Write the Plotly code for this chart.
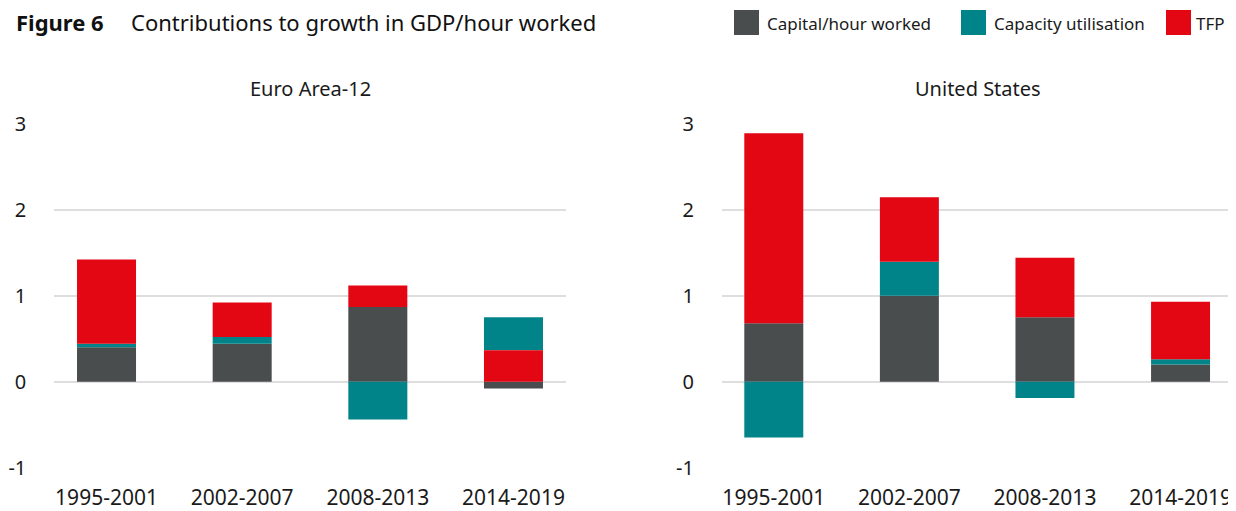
import plotly.graph_objects as go

periods = ["1995-2001", "2002-2007", "2008-2013", "2014-2019"]
series_names = ["Capital/hour worked", "Capacity utilisation", "TFP"]
colors = {"Capital/hour worked": "#4A4D4E", "Capacity utilisation": "#00848A", "TFP": "#E30613"}
y_tick_vals = [-1, 0, 1, 2, 3]
y_tick_text = ["-1", "0", "1", "2", "3"]

# Euro Area-12
ea_capital = [0.40, 0.44, 0.87, -0.08]
ea_capacity = [0.04, 0.08, -0.44, 0.385]
ea_tfp = [0.98, 0.40, 0.25, 0.365]

# United States
us_capital = [0.68, 1.00, 0.75, 0.20]
us_capacity = [-0.65, 0.395, -0.19, 0.06]
us_tfp = [2.21, 0.75, 0.69, 0.67]

# stacking order of positive segments per period (bottom to top)
ea_order = [["Capital/hour worked", "Capacity utilisation", "TFP"]] * 3 + [["Capital/hour worked", "TFP", "Capacity utilisation"]]
us_order = [["Capital/hour worked", "Capacity utilisation", "TFP"]] * 4

FONT = "Noto Sans"


def stacked_bases(values, orders):
    bases = {k: [0.0] * len(periods) for k in values}
    for i in range(len(periods)):
        pos, neg = 0.0, 0.0
        for name in orders[i]:
            v = values[name][i]
            if v >= 0:
                bases[name][i] = pos
                pos += v
            else:
                bases[name][i] = neg
                neg += v
    return bases


fig = go.Figure()
panels = [
    ({"Capital/hour worked": ea_capital, "Capacity utilisation": ea_capacity, "TFP": ea_tfp}, ea_order, "x", "y"),
    ({"Capital/hour worked": us_capital, "Capacity utilisation": us_capacity, "TFP": us_tfp}, us_order, "x2", "y2"),
]
for values, orders, xa, ya in panels:
    bases = stacked_bases(values, orders)
    for name in series_names:
        fig.add_trace(go.Bar(
            x=periods, y=values[name], base=bases[name], name=name,
            marker=dict(color=colors[name], line=dict(width=0)),
            width=0.435, xaxis=xa, yaxis=ya, showlegend=False,
        ))

# page body has an 8px margin; the visible area ends about 8px before the window edge
OFF = 8
W, H = 1236 - OFF, 511 - OFF
RIGHT = 1228


def px(X):
    return (X - OFF) / W


def py(Y):
    return 1 - (Y - OFF) / H


ydom = [py(467.7), py(123.7)]
axis_common = dict(showgrid=False, zeroline=False, showline=False, ticks="", automargin=False,
                   tickfont=dict(family=FONT, size=21, color="#1a1a1a"), ticklabelstandoff=15)
yaxis_common = dict(range=[-1, 3], tickmode="array", tickvals=y_tick_vals, ticktext=y_tick_text,
                    showgrid=True, gridcolor="#DEDEDE", gridwidth=1.5,
                    zeroline=False, showline=False, ticks="", domain=ydom, automargin=False,
                    tickfont=dict(family=FONT, size=20, color="#1a1a1a"), ticklabelstandoff=27)

fig.update_layout(
    width=W, height=H, margin=dict(l=0, r=0, t=0, b=0, autoexpand=False),
    paper_bgcolor="white", plot_bgcolor="white", barmode="overlay", showlegend=False,
    xaxis=dict(domain=[px(54.3), px(565.7)], range=[-0.385, 3.385], type="category", anchor="y", **axis_common),
    xaxis2=dict(domain=[px(722), px(RIGHT)], range=[-0.382, 3.35], type="category", anchor="y2", **axis_common),
    yaxis=dict(anchor="x", **yaxis_common),
    yaxis2=dict(anchor="x2", **yaxis_common),
    font=dict(family=FONT, color="#1a1a1a"),
)

annotations = [
    dict(text="<b>Figure 6</b>", x=px(14), y=py(22), xanchor="left", yanchor="middle",
         font=dict(family=FONT, size=22, color="#111")),
    dict(text="Contributions to growth in GDP/hour worked", x=px(129), y=py(22), xanchor="left", yanchor="middle",
         font=dict(family=FONT, size=22, color="#111")),
    dict(text="Euro Area-12", x=px((54.3 + 565.7) / 2), y=py(88), xanchor="center", yanchor="middle",
         font=dict(family=FONT, size=20, color="#1a1a1a")),
    dict(text="United States", x=px((722 + 1234) / 2), y=py(88), xanchor="center", yanchor="middle",
         font=dict(family=FONT, size=20, color="#1a1a1a")),
]
shapes = []
legend_items = [("Capital/hour worked", 734), ("Capacity utilisation", 961), ("TFP", 1166)]
for i, (name, x0) in enumerate(legend_items):
    shapes.append(dict(type="rect", xref="paper", yref="paper", x0=px(x0), x1=px(x0 + 25),
                       y0=py(35), y1=py(10), fillcolor=colors[name], line=dict(width=0)))
    last = i == len(legend_items) - 1
    annotations.append(dict(text=name, x=px(RIGHT - 1) if last else px(x0 + 31), y=py(23),
                            xanchor="right" if last else "left", yanchor="middle",
                            font=dict(family=FONT, size=17, color="#1a1a1a")))
for a in annotations:
    a.update(xref="paper", yref="paper", showarrow=False)
fig.update_layout(annotations=annotations, shapes=shapes)

fig.write_html("out.html")
